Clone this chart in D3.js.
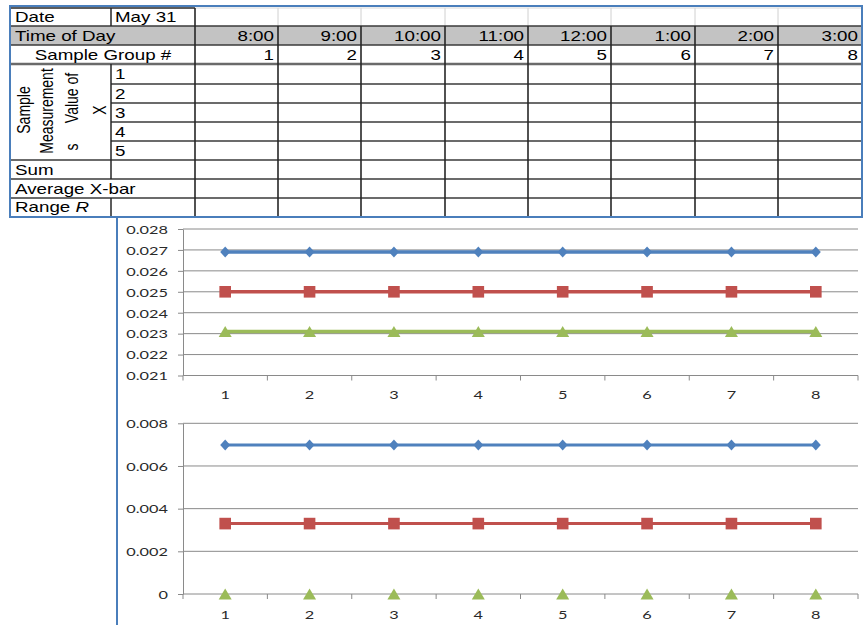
<!DOCTYPE html>
<html><head><meta charset="utf-8">
<script src="https://cdn.jsdelivr.net/npm/d3@7"></script>
<style>body{margin:0;background:#fff}svg{display:block}</style>
</head><body>
<svg id="c" width="864" height="625"></svg>
<script>
// ---------- data ----------
const dateLabel = "May 31";
const times = ["8:00","9:00","10:00","11:00","12:00","1:00","2:00","3:00"];
const groups = [1,2,3,4,5,6,7,8];
const sampleRows = [1,2,3,4,5];
const xbarUCL = [0.0269,0.0269,0.0269,0.0269,0.0269,0.0269,0.0269,0.0269];
const xbarCL  = [0.025,0.025,0.025,0.025,0.025,0.025,0.025,0.025];
const xbarLCL = [0.0231,0.0231,0.0231,0.0231,0.0231,0.0231,0.0231,0.0231];
const rUCL = [0.00698,0.00698,0.00698,0.00698,0.00698,0.00698,0.00698,0.00698];
const rCL  = [0.0033,0.0033,0.0033,0.0033,0.0033,0.0033,0.0033,0.0033];
const rLCL = [0,0,0,0,0,0,0,0];
const xbarTicks = [0.021,0.022,0.023,0.024,0.025,0.026,0.027,0.028];
const xbarTickLabels = ["0.021","0.022","0.023","0.024","0.025","0.026","0.027","0.028"];
const rTicks = [0,0.002,0.004,0.006,0.008];
const rTickLabels = ["0","0.002","0.004","0.006","0.008"];

// ---------- layout ----------
const svg = d3.select("#c");
const SX = 1.34;              // horizontal stretch of the original picture
const TF = "'Liberation Sans', Arial, sans-serif";
const colX = [11,111,195,278,361,445,528,611,695,778,862];
const rowY = [8,26,45,64,84,103,122,141,160,179,198,216];
const dark = "#262626";

const tbl = svg.append("g");
tbl.append("rect").attr("x",11).attr("y",rowY[1]).attr("width",862-11).attr("height",rowY[2]-rowY[1]).attr("fill","#c3c3c3");

function hline(x1,x2,y,col,w){tbl.append("line").attr("x1",x1).attr("x2",x2).attr("y1",y).attr("y2",y).attr("stroke",col).attr("stroke-width",w);}
function vline(x,y1,y2,col,w){tbl.append("line").attr("x1",x).attr("x2",x).attr("y1",y1).attr("y2",y2).attr("stroke",col).attr("stroke-width",w);}

colX.slice(3,10).forEach(x=>vline(x,rowY[0],rowY[1],"#d0d0d0",1));
hline(195,862,rowY[0],"#d8d8d8",1);
hline(11,195,rowY[0],dark,1.3);
hline(11,862,rowY[1],"#3a3a3a",1.5);
hline(11,862,rowY[2],"#3a3a3a",1.5);
hline(11,862,rowY[3],"#6a6a6a",2.5);
[4,5,6,7].forEach(i=>hline(111,862,rowY[i],"#3a3a3a",1.3));
[8,9,10].forEach(i=>hline(11,862,rowY[i],"#3a3a3a",1.3));
vline(111,rowY[0],rowY[1],dark,1.5);
vline(111,rowY[3],rowY[9],dark,1.5);
vline(111,rowY[10],rowY[11],dark,1.5);
vline(195,rowY[0],rowY[11],dark,1.6);
colX.slice(3,10).forEach(x=>vline(x,rowY[1],rowY[11],dark,1.6));

function ttext(x,y,s,anchor){
  return tbl.append("text").attr("transform",`translate(${x},${y}) scale(${SX},1)`)
    .attr("font-family",TF).attr("font-size",14).attr("fill","#000")
    .attr("text-anchor",anchor||"start").text(s);
}
ttext(15,22,"Date");
ttext(115,22,dateLabel);
ttext(15,41,"Time of Day");
times.forEach((t,i)=>ttext(colX[i+3]-4,41,t,"end"));
ttext(103,60,"Sample Group #","middle");
groups.forEach((g,i)=>ttext(colX[i+3]-4,60,g,"end"));
sampleRows.forEach((r,i)=>ttext(115,rowY[i+3]+15,r));
ttext(15,175,"Sum");
ttext(15,194,"Average X-bar");
const rt = ttext(15,212,"Range ");
rt.append("tspan").attr("font-style","italic").text("R");

function rtext(bx,cy,s){
  tbl.append("text").attr("transform",`translate(${bx},${cy}) scale(${SX},1) rotate(-90)`)
    .attr("font-family",TF).attr("font-size",14).attr("fill","#000")
    .attr("text-anchor","middle").text(s);
}
rtext(29.5,110,"Sample");
rtext(53,111,"Measurement");
rtext(78,98,"Value of");
rtext(78,147,"s");
rtext(106,110,"X");

svg.append("rect").attr("x",10).attr("y",6).attr("width",852).attr("height",211)
  .attr("fill","none").attr("stroke","#4a7ebb").attr("stroke-width",2);
svg.append("line").attr("x1",117).attr("x2",117).attr("y1",217).attr("y2",625)
  .attr("stroke","#4a7ebb").attr("stroke-width",2);

// ---------- charts ----------
const AF = "Lato, 'Open Sans', sans-serif";
const gridCol = "#8a8a8a";
const colors = {blue:"#4f81bd", red:"#c0504d", green:"#9bbb59"};
const excelDiamond = {draw(ctx,size){const w=Math.sqrt(size)/2, h=w*1.1;
  ctx.moveTo(0,-h);ctx.lineTo(w,0);ctx.lineTo(0,h);ctx.lineTo(-w,0);ctx.closePath();}};
const excelTriangle = {draw(ctx,size){const w=Math.sqrt(size)/2, h=w*0.85;
  ctx.moveTo(0,-h);ctx.lineTo(w,h);ctx.lineTo(-w,h);ctx.closePath();}};

function drawChart(opts){
  const g = svg.append("g");
  const x = d3.scaleBand().domain(groups).range([183,858]);
  const y = d3.scaleLinear().domain(opts.domain).range(opts.yRange);
  const [x0,x1] = x.range();
  g.selectAll(".grid").data(opts.ticks.slice(1)).join("line")
    .attr("x1",x0).attr("x2",x1).attr("y1",d=>y(d)).attr("y2",d=>y(d))
    .attr("stroke",gridCol).attr("stroke-width",1);
  const ya = g.append("g").attr("transform",`translate(${x0},0)`)
    .call(d3.axisLeft(y).tickValues(opts.ticks).tickFormat((d,i)=>opts.labels[i]).tickSize(5).tickSizeOuter(0));
  ya.select(".domain").attr("stroke",gridCol);
  ya.selectAll(".tick line").attr("stroke",gridCol);
  ya.selectAll(".tick text").attr("x",null).attr("dy","0.36em")
    .attr("transform",`translate(-15,0) scale(1.36,1)`)
    .attr("font-family",AF).attr("font-size",12).attr("fill","#2a2a2a");
  const yb = opts.yRange[0];
  g.append("line").attr("x1",x0).attr("x2",x1).attr("y1",yb).attr("y2",yb).attr("stroke",gridCol);
  g.selectAll(".xt").data(d3.range(groups.length+1)).join("line")
    .attr("x1",i=>x0+i*x.step()).attr("x2",i=>x0+i*x.step())
    .attr("y1",yb).attr("y2",yb+5).attr("stroke",gridCol);
  const xa = g.append("g").attr("transform",`translate(0,${yb})`)
    .call(d3.axisBottom(x).tickSize(0).tickPadding(0));
  xa.select(".domain").remove();
  xa.selectAll(".tick text").attr("y",null).attr("dy",null)
    .attr("transform",`translate(0,${opts.labelDy}) scale(1.36,1)`)
    .attr("font-family",AF).attr("font-size",12).attr("fill","#2a2a2a");
  const cx = d=>x(d)+x.bandwidth()/2;
  opts.series.forEach(s=>{
    const pts = groups.map((gv,i)=>[cx(gv), y(s.values[i])]);
    if(s.line){
      g.append("path").attr("d",d3.line()(pts)).attr("fill","none")
        .attr("stroke",colors[s.color]).attr("stroke-width",opts.lw);
    }
    const sym = d3.symbol().type(s.shape).size(s.size);
    g.selectAll(null).data(pts).join("path")
      .attr("transform",d=>`translate(${d[0]},${d[1]})`)
      .attr("d",sym).attr("fill",colors[s.color]);
  });
}

drawChart({domain:[0.021,0.028], yRange:[375.5,229], ticks:xbarTicks, labels:xbarTickLabels,
  labelDy:23, lw:3.5,
  series:[
    {values:xbarUCL,color:"blue",shape:excelDiamond,size:100,line:true},
    {values:xbarCL,color:"red",shape:d3.symbolSquare,size:135,line:true},
    {values:xbarLCL,color:"green",shape:excelTriangle,size:170,line:true}
  ]});
drawChart({domain:[0,0.008], yRange:[594,423.3], ticks:rTicks, labels:rTickLabels,
  labelDy:25, lw:3,
  series:[
    {values:rUCL,color:"blue",shape:excelDiamond,size:100,line:true},
    {values:rCL,color:"red",shape:d3.symbolSquare,size:135,line:true},
    {values:rLCL,color:"green",shape:excelTriangle,size:170,line:false}
  ]});
</script>
</body></html>
